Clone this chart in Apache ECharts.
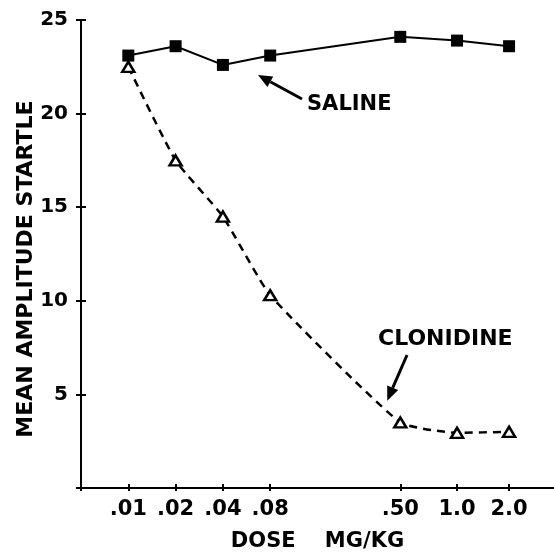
<!DOCTYPE html>
<html>
<head>
<meta charset="utf-8">
<script src="https://cdn.jsdelivr.net/npm/echarts@6/dist/echarts.min.js"></script>
<style>
  html, body { margin: 0; padding: 0; background: #fff; }
  #chart { width: 554px; height: 553px; }
</style>
</head>
<body>
<div id="chart"></div>
<script>
// Dose categories and their positions on the plot's (non-uniform) dose axis
const doseLabels = ['.01', '.02', '.04', '.08', '.50', '1.0', '2.0'];
const dosePositions = [1, 2, 3, 4, 6.75, 7.95, 9.05];
// Mean amplitude startle
const saline = [23.1, 23.6, 22.6, 23.1, 24.1, 23.9, 23.6];
const clonidine = [22.5, 17.5, 14.5, 10.3, 3.5, 2.95, 3.0];
// Y ticks
const yTicks = [0, 5, 10, 15, 20, 25];

const FONT = 'DejaVu Sans';
const chart = echarts.init(document.getElementById('chart'), null, { renderer: 'canvas' });

function labelFor(v) {
  for (let i = 0; i < dosePositions.length; i++) {
    if (Math.abs(dosePositions[i] - v) < 1e-6) return doseLabels[i];
  }
  return '';
}

const salineData = dosePositions.map((p, i) => [p, saline[i]]);
const clonData = dosePositions.map((p, i) => [p, clonidine[i]]);

const axisLineStyle = { color: '#000', width: 2 };

const option = {
  animation: false,
  backgroundColor: '#fff',
  grid: { left: 81, right: 0, top: 20, bottom: 65, containLabel: false, outerBoundsMode: 'none' },
  xAxis: [
    {
      type: 'value', min: 0, max: 10, position: 'bottom',
      name: 'DOSE    MG/KG', nameLocation: 'middle', nameGap: 43, nameMoveOverlap: false,
      nameTextStyle: { fontFamily: FONT, fontWeight: 'bold', fontSize: 21, color: '#000' },
      axisLine: { show: true, lineStyle: axisLineStyle },
      axisTick: { show: true, length: 3, customValues: [0].concat(dosePositions), lineStyle: { color: '#000', width: 2 } },
      axisLabel: {
        customValues: dosePositions, formatter: labelFor, margin: 11,
        fontFamily: FONT, fontWeight: 'bold', fontSize: 21, color: '#000'
      },
      splitLine: { show: false }
    },
    {
      type: 'value', min: 0, max: 10, position: 'bottom',
      axisLine: { show: false },
      axisTick: { show: true, inside: true, length: 4, customValues: [0].concat(dosePositions), lineStyle: { color: '#000', width: 2 } },
      axisLabel: { show: false },
      splitLine: { show: false }
    }
  ],
  yAxis: [
    {
      type: 'value', min: 0, max: 25, interval: 5, position: 'left',
      name: 'MEAN AMPLITUDE STARTLE', nameLocation: 'middle', nameGap: 44, nameRotate: 90, nameMoveOverlap: false,
      nameTextStyle: { fontFamily: FONT, fontWeight: 'bold', fontSize: 22, color: '#000', padding: [0, 30, 0, 0] },
      axisLine: { show: true, lineStyle: axisLineStyle },
      axisTick: { show: true, length: 5, customValues: yTicks, lineStyle: { color: '#000', width: 2 } },
      axisLabel: {
        customValues: yTicks.slice(1), margin: 13,
        fontFamily: FONT, fontWeight: 'bold', fontSize: 20, color: '#000'
      },
      splitLine: { show: false }
    },
    {
      type: 'value', min: 0, max: 25, interval: 5, position: 'left', offset: 0,
      axisLine: { show: false },
      axisTick: { show: true, inside: true, length: 5, customValues: yTicks, lineStyle: { color: '#000', width: 2 } },
      axisLabel: { show: false },
      splitLine: { show: false }
    }
  ],
  series: [
    {
      name: 'CLONIDINE', type: 'line', data: clonData, z: 3,
      smooth: 0.15,
      symbol: 'triangle', symbolSize: [12, 10],
      lineStyle: { color: '#000', width: 2.5, type: [8, 6] },
      itemStyle: { color: '#fff', borderColor: '#000', borderWidth: 2.5 }
    },
    {
      name: 'SALINE', type: 'line', data: salineData, z: 4,
      symbol: 'rect', symbolSize: 12,
      lineStyle: { color: '#000', width: 2 },
      itemStyle: { color: '#000' }
    }
  ],
  graphic: [
    { type: 'text', left: 307, top: 94, style: { text: 'SALINE', fontFamily: FONT, fontWeight: 'bold', fontSize: 21, fill: '#000' } },
    { type: 'line', shape: { x1: 302, y1: 99, x2: 270.3, y2: 81.7 }, style: { stroke: '#000', lineWidth: 3 } },
    { type: 'polygon', shape: { points: [[258, 75], [273.2, 76.4], [267.4, 87.0]] }, style: { fill: '#000' } },
    { type: 'text', left: 378, top: 328, style: { text: 'CLONIDINE', fontFamily: FONT, fontWeight: 'bold', fontSize: 22, fill: '#000' } },
    { type: 'line', shape: { x1: 407, y1: 355, x2: 392.7, y2: 387.8 }, style: { stroke: '#000', lineWidth: 3 } },
    { type: 'polygon', shape: { points: [[387.3, 400.7], [398.2, 390.1], [387.2, 385.5]] }, style: { fill: '#000' } }
  ]
};
chart.setOption(option);
</script>
</body>
</html>
